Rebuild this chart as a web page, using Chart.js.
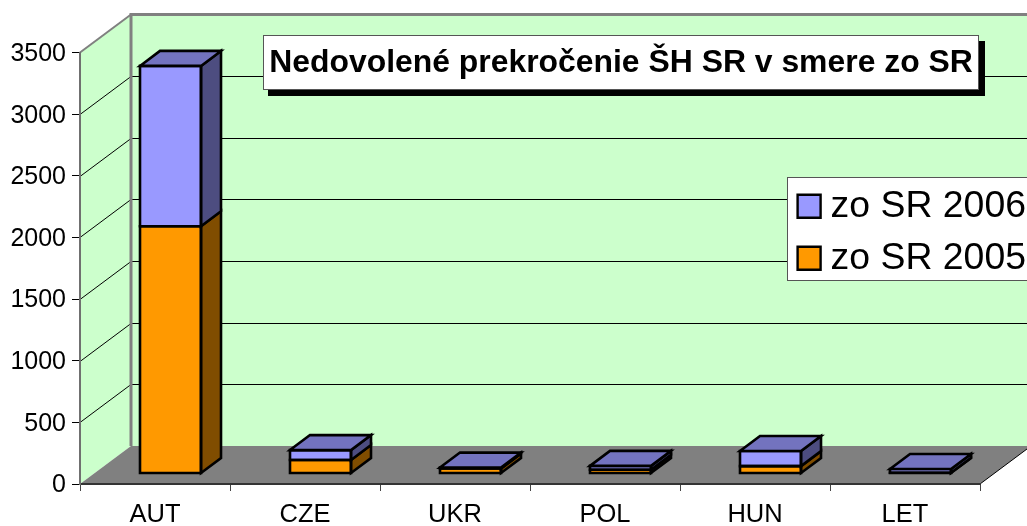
<!DOCTYPE html>
<html>
<head>
<meta charset="utf-8">
<style>html,body{margin:0;padding:0;background:#fff}canvas{display:block}</style>
<script src="https://cdn.jsdelivr.net/npm/chart.js@4/dist/chart.umd.min.js"></script>
</head>
<body>
<canvas id="c" width="1027" height="526"></canvas>
<script>
const categories = ['AUT','CZE','UKR','POL','HUN','LET'];
const values2005 = [2006,110,40,30,60,6];
const values2006 = [1300,80,8,32,122,31];
const yTicksMax = 3500;
const yTickStep = 500;
const chartTitle = 'Nedovolené prekročenie ŠH SR v smere zo SR';

const FONT = '"Liberation Sans", Arial, sans-serif';
const WALL = {dx:51, dy:-38};
const BAR = {ox:15.5, oy:-10.5, dx:20, dy:-15};
const faces = [
  {front:'#FF9900', side:'#804D00', top:'#BF7300'},
  {front:'#9999FF', side:'#4D4D80', top:'#7373BF'}
];

const scene = {
  id:'scene',
  afterUpdate(chart){
    const t = chart.titleBlock;
    t.left = 263; t.right = 979; t.width = 716; t.top = 36.5; t.bottom = 89;
    const l = chart.legend;
    l.left = 783; l.top = 173; l.right = 1026; l.bottom = 400;
  },
  beforeDraw(chart){
    const ctx = chart.ctx, a = chart.chartArea, y = chart.scales.y;
    const W = chart.width;
    const {dx,dy} = WALL;
    ctx.save();
    // back wall
    ctx.fillStyle = '#CCFFCC';
    ctx.fillRect(a.left+dx, a.top+dy, W-a.left-dx, a.bottom-a.top);
    // left wall
    ctx.beginPath();
    ctx.moveTo(a.left,a.top); ctx.lineTo(a.left+dx,a.top+dy);
    ctx.lineTo(a.left+dx,a.bottom+dy); ctx.lineTo(a.left,a.bottom); ctx.closePath();
    ctx.fill();
    // floor
    ctx.fillStyle = '#808080';
    ctx.beginPath();
    ctx.moveTo(a.left,a.bottom); ctx.lineTo(a.left+dx,a.bottom+dy);
    ctx.lineTo(a.right+dx,a.bottom+dy); ctx.lineTo(a.right,a.bottom); ctx.closePath();
    ctx.fill();
    // grid on walls
    ctx.strokeStyle = '#000'; ctx.lineWidth = 1;
    y.ticks.forEach(t=>{
      if(t.value===0 || t.value===yTicksMax) return;
      const p = Math.round(y.getPixelForValue(t.value))+0.5;
      ctx.beginPath();
      ctx.moveTo(a.left,p); ctx.lineTo(a.left+dx,p+dy); ctx.lineTo(W,p+dy);
      ctx.stroke();
    });
    // right floor edge
    ctx.beginPath();
    ctx.moveTo(a.right,a.bottom); ctx.lineTo(a.right+dx,a.bottom+dy); ctx.stroke();
    // wall frame
    ctx.strokeStyle = '#808080';
    ctx.lineWidth = 2;
    ctx.beginPath();
    ctx.moveTo(a.left,a.top); ctx.lineTo(a.left+dx,a.top+dy); ctx.stroke();
    ctx.lineWidth = 3;
    ctx.beginPath();
    ctx.moveTo(W,a.top+dy); ctx.lineTo(a.left+dx,a.top+dy); ctx.lineTo(a.left+dx,a.bottom+dy); ctx.stroke();
    // title box
    ctx.fillStyle = '#000';
    ctx.fillRect(268,41,717,55);
    ctx.fillStyle = '#fff';
    ctx.strokeStyle = '#555'; ctx.lineWidth = 1;
    ctx.fillRect(263,35,716,55);
    ctx.strokeRect(263.5,35.5,715,54);
    // legend box
    ctx.fillRect(787,177,260,104);
    ctx.strokeRect(787.5,177.5,260,103);
    ctx.restore();
  },
  beforeDatasetsDraw(chart){
    chart.ctx.save();
    chart.ctx.translate(BAR.ox,BAR.oy);
  },
  afterDatasetsDraw(chart){
    const ctx = chart.ctx;
    ctx.lineWidth = 2.6; ctx.strokeStyle = '#000'; ctx.lineJoin = 'miter';
    chart.data.datasets.forEach((ds,i)=>{
      chart.getDatasetMeta(i).data.forEach(el=>{
        const {x,y,base,width} = el.getProps(['x','y','base','width'],true);
        const l = x-width/2, r = x+width/2;
        const poly = (pts,fill)=>{
          ctx.beginPath();
          pts.forEach((p,k)=>k?ctx.lineTo(p[0],p[1]):ctx.moveTo(p[0],p[1]));
          ctx.closePath();
          if(fill){ctx.fillStyle=fill;ctx.fill();}
          ctx.stroke();
        };
        poly([[r,y],[r+BAR.dx,y+BAR.dy],[r+BAR.dx,base+BAR.dy],[r,base]],faces[i].side);
        poly([[l,y],[r,y],[r,base],[l,base]],null);
        if(i===chart.data.datasets.length-1){
          poly([[l,y],[l+BAR.dx,y+BAR.dy],[r+BAR.dx,y+BAR.dy],[r,y]],faces[i].top);
        }
      });
    });
    ctx.restore();
  }
};

new Chart(document.getElementById('c'),{
  type:'bar',
  data:{
    labels:categories,
    datasets:[
      {label:'zo SR 2005',data:values2005,backgroundColor:faces[0].front,borderColor:'#000',borderWidth:0,barThickness:61,clip:false},
      {label:'zo SR 2006',data:values2006,backgroundColor:faces[1].front,borderColor:'#000',borderWidth:0,barThickness:61,clip:false}
    ]
  },
  plugins:[scene],
  options:{
    responsive:false,
    animation:false,
    events:[],
    layout:{padding:{left:0,right:47,top:0,bottom:0}},
    plugins:{
      tooltip:{enabled:false},
      title:{display:true,text:chartTitle,color:'#000',padding:{top:8.25,bottom:8.25},
        font:{family:FONT,size:31.9,weight:'bold',lineHeight:36/31.9}},
      legend:{display:true,position:'chartArea',align:'start',reverse:true,
        labels:{color:'#000',boxWidth:23,boxHeight:23,padding:14.6,textAlign:'right',
          font:{family:FONT,size:37.4},
          generateLabels(chart){
            return chart.data.datasets.map((d,i)=>({text:d.label,fillStyle:d.backgroundColor,strokeStyle:'#000',lineWidth:2.4,datasetIndex:i,textAlign:'right'}));
          }}}
    },
    scales:{
      x:{stacked:true,offset:true,
        afterFit(s){s.height=42;},
        grid:{offset:true,drawOnChartArea:false,drawTicks:true,tickLength:7,color:'#444'},
        border:{color:'#333',width:2},
        ticks:{color:'#000',padding:9,maxRotation:0,autoSkip:false,font:{family:FONT,size:25.5}}},
      y:{stacked:true,min:0,max:yTicksMax,
        afterFit(s){s.width=80;},
        grid:{drawOnChartArea:false,drawTicks:true,tickLength:8,color:'#000'},
        border:{color:'#707070',width:2},
        ticks:{color:'#000',stepSize:yTickStep,padding:6,labelOffset:1.5,callback:v=>String(v),font:{family:FONT,size:25}}}
    }
  }
});
</script>
</body>
</html>
